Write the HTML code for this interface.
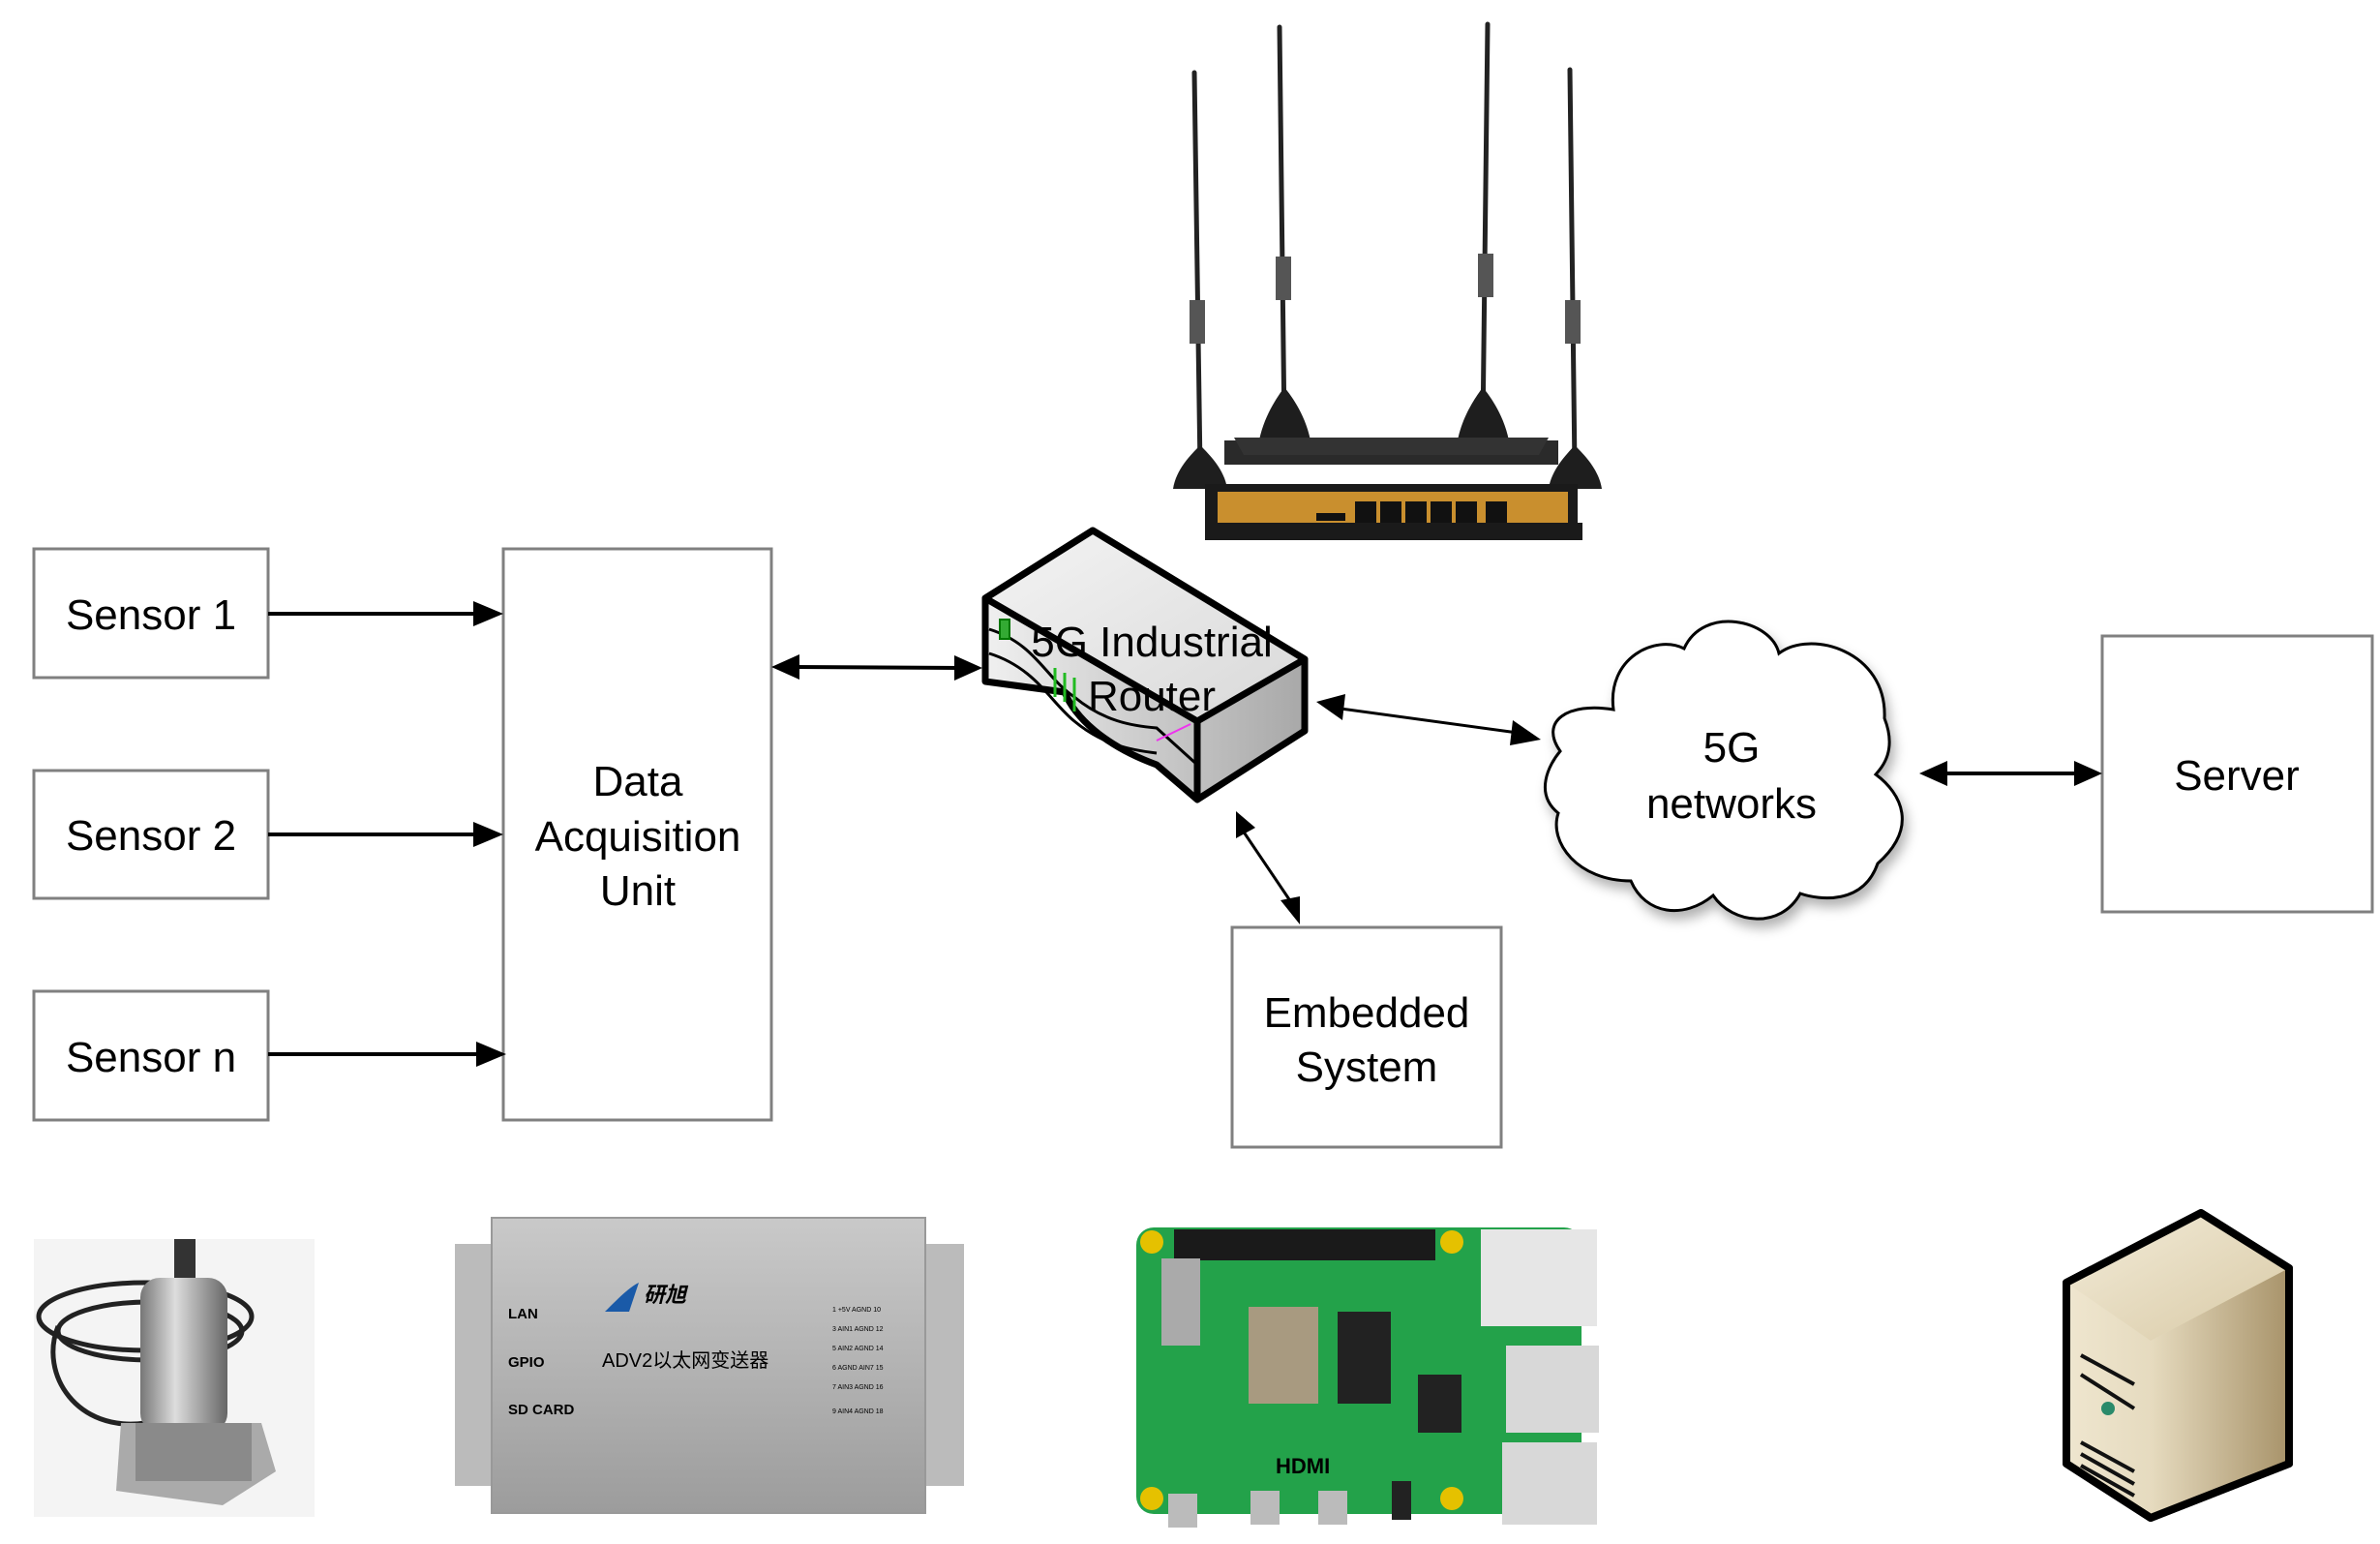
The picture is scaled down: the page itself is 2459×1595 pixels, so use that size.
<!DOCTYPE html>
<html><head><meta charset="utf-8"><style>
html,body{margin:0;padding:0;background:#fff}
svg{display:block}
text{font-family:"Liberation Sans","Noto Sans CJK SC",sans-serif;fill:#000}
</style></head><body>
<svg width="2459" height="1595" viewBox="0 0 2459 1595" xmlns="http://www.w3.org/2000/svg">
<defs>
<marker id="ah" markerWidth="10" markerHeight="10" refX="9" refY="5" orient="auto" markerUnits="userSpaceOnUse" viewBox="0 0 10 10">
</marker>
<linearGradient id="rtop" x1="0" y1="0" x2="1" y2="1"><stop offset="0" stop-color="#f4f4f4"/><stop offset="1" stop-color="#d8d8d8"/></linearGradient>
<linearGradient id="rside" x1="0" y1="0" x2="1" y2="0"><stop offset="0" stop-color="#f0f0f0"/><stop offset="1" stop-color="#a8a8a8"/></linearGradient>
<linearGradient id="stop" x1="0" y1="0" x2="1" y2="1"><stop offset="0" stop-color="#f3ecd9"/><stop offset="1" stop-color="#d8c9a5"/></linearGradient>
<linearGradient id="sside" x1="0" y1="0" x2="1" y2="0"><stop offset="0" stop-color="#e6dbbf"/><stop offset="1" stop-color="#a8936a"/></linearGradient>
<linearGradient id="sfront" x1="0" y1="0" x2="1" y2="0"><stop offset="0" stop-color="#efe6cf"/><stop offset="1" stop-color="#d6c8a5"/></linearGradient>
<linearGradient id="metal" x1="0" y1="0" x2="0" y2="1"><stop offset="0" stop-color="#c9c9c9"/><stop offset="0.5" stop-color="#b3b3b3"/><stop offset="1" stop-color="#9c9c9c"/></linearGradient>
<linearGradient id="sens" x1="0" y1="0" x2="1" y2="0"><stop offset="0" stop-color="#777"/><stop offset="0.4" stop-color="#ddd"/><stop offset="1" stop-color="#666"/></linearGradient>
<filter id="sh"><feDropShadow dx="4" dy="8" stdDeviation="6" flood-color="#000" flood-opacity="0.3"/></filter>
</defs>

<!-- Boxes -->
<g fill="#fff" stroke="#808080" stroke-width="3">
<rect x="35" y="567" width="242" height="133"/>
<rect x="35" y="796" width="242" height="132"/>
<rect x="35" y="1024" width="242" height="133"/>
<rect x="520" y="567" width="277" height="590"/>
<rect x="1273" y="958" width="278" height="227"/>
<rect x="2172" y="657" width="279" height="285"/>
</g>
<g font-size="44" text-anchor="middle">
<text x="156" y="650">Sensor 1</text>
<text x="156" y="878">Sensor 2</text>
<text x="156" y="1107">Sensor n</text>
<text x="659" y="822">Data</text>
<text x="659" y="879">Acquisition</text>
<text x="659" y="935">Unit</text>
<text x="1412" y="1061">Embedded</text>
<text x="1412" y="1117">System</text>
<text x="2311" y="816">Server</text>
</g>

<!-- Arrows -->
<g stroke="#000" stroke-width="4">
<line x1="277" y1="634" x2="500" y2="634"/>
<line x1="277" y1="862" x2="500" y2="862"/>
<line x1="277" y1="1089" x2="503" y2="1089"/>
<line x1="820" y1="689" x2="993" y2="690"/>
<line x1="2005" y1="799" x2="2150" y2="799"/>
<line x1="1385" y1="732" x2="1568" y2="757" stroke-width="3"/>
<line x1="1284" y1="858" x2="1336" y2="935" stroke-width="3"/>
</g>
<g fill="#000">
<polygon points="520,634 489,621 489,647"/>
<polygon points="520,862 489,849 489,875"/>
<polygon points="523,1089 492,1076 492,1102"/>
<polygon points="797,689 826,676 826,702"/>
<polygon points="1015,690 986,677 986,703"/>
<polygon points="1983,799 2012,786 2012,812"/>
<polygon points="2172,799 2143,786 2143,812"/>
<polygon points="1360,725 1390,717 1387,744"/>
<polygon points="1592,764 1563,744 1560,770"/>
<polygon points="1277,838 1277,866 1297,855"/>
<polygon points="1343,955 1323,930 1343,926"/>
</g>

<!-- Cloud -->
<g filter="url(#sh)">
<path d="M1667,733 C1660,680 1710,655 1740,670 C1760,625 1830,640 1838,675 C1870,650 1950,672 1947,742 C1960,775 1945,792 1938,800 C1965,820 1982,855 1940,892 C1925,935 1880,930 1860,923 C1840,960 1790,955 1770,925 C1740,950 1700,945 1685,910 C1630,910 1600,870 1610,840 C1585,820 1600,790 1612,776 C1590,745 1620,725 1667,733 Z" fill="#fff" stroke="#000" stroke-width="3"/>
</g>
<g font-size="44" text-anchor="middle">
<text x="1789" y="787">5G</text>
<text x="1789" y="845">networks</text>
</g>

<!-- Router icon -->
<g stroke="#000" stroke-width="7" stroke-linejoin="round">
<path d="M1129,548 L1348,681 L1348,755 L1237,826 L1195,790 C1140,770 1110,740 1100,715 L1018,704 L1018,618 Z" fill="url(#rside)"/>
<path d="M1129,548 L1348,681 L1237,745 L1018,618 Z" fill="url(#rtop)"/>
<path d="M1237,745 L1237,826" fill="none"/>
</g>
<g stroke="#000" stroke-width="3" fill="none">
<path d="M1022,650 C1070,665 1080,700 1110,720 C1140,745 1170,750 1195,752 L1237,790"/>
<path d="M1022,675 C1070,690 1085,725 1110,745 C1140,770 1170,775 1195,778"/>
</g>
<rect x="1033" y="640" width="10" height="20" fill="#3a3" stroke="#070" stroke-width="2"/>
<g stroke="#2b2" stroke-width="3"><line x1="1090" y1="690" x2="1090" y2="720"/><line x1="1100" y1="695" x2="1100" y2="725"/><line x1="1110" y1="700" x2="1110" y2="735"/></g>
<line x1="1195" y1="765" x2="1230" y2="748" stroke="#e3e" stroke-width="2"/>
<g font-size="44" text-anchor="middle">
<text x="1190" y="678">5G Industrial</text>
<text x="1190" y="734">Router</text>
</g>

<!-- Top 4G router with antennas -->
<g stroke="#222" stroke-linecap="round">
<line x1="1234" y1="75" x2="1240" y2="485" stroke-width="5"/>
<line x1="1322" y1="28" x2="1327" y2="445" stroke-width="5"/>
<line x1="1537" y1="25" x2="1532" y2="445" stroke-width="5"/>
<line x1="1622" y1="72" x2="1627" y2="485" stroke-width="5"/>
</g>
<g fill="#555">
<rect x="1229" y="310" width="16" height="45"/><rect x="1318" y="265" width="16" height="45"/>
<rect x="1527" y="262" width="16" height="45"/><rect x="1617" y="310" width="16" height="45"/>
</g>
<g fill="#1e1e1e">
<path d="M1212,505 C1215,485 1230,470 1240,460 C1250,470 1265,485 1268,505 Z"/>
<path d="M1300,460 C1305,430 1320,410 1327,400 C1335,410 1350,430 1355,460 Z"/>
<path d="M1505,460 C1510,430 1525,410 1532,400 C1540,410 1555,430 1560,460 Z"/>
<path d="M1600,505 C1603,485 1618,470 1627,460 C1637,470 1652,485 1655,505 Z"/>
</g>
<path d="M1265,455 L1610,455 L1610,480 L1265,480 Z" fill="#2a2a2a"/>
<path d="M1275,452 L1600,452 L1590,470 L1285,470 Z" fill="#333"/>
<rect x="1245" y="500" width="385" height="56" fill="#1a1a1a"/>
<rect x="1258" y="508" width="362" height="44" fill="#c98f2e"/>
<g fill="#111">
<rect x="1400" y="518" width="22" height="25"/><rect x="1426" y="518" width="22" height="25"/><rect x="1452" y="518" width="22" height="25"/><rect x="1478" y="518" width="22" height="25"/><rect x="1504" y="518" width="22" height="25"/><rect x="1535" y="518" width="22" height="25"/>
<rect x="1360" y="530" width="30" height="8"/>
</g>
<rect x="1245" y="540" width="390" height="18" fill="#1a1a1a"/>

<!-- Bottom: sensor photo -->
<rect x="35" y="1280" width="290" height="287" fill="#f4f4f4"/>
<g fill="none" stroke="#222" stroke-width="5">
<ellipse cx="150" cy="1360" rx="110" ry="35"/>
<ellipse cx="155" cy="1375" rx="95" ry="30"/>
<path d="M60,1370 C40,1420 80,1480 150,1470"/>
</g>
<rect x="180" y="1280" width="22" height="55" fill="#333"/>
<rect x="145" y="1320" width="90" height="160" rx="20" fill="url(#sens)"/>
<polygon points="125,1470 270,1470 285,1520 230,1555 120,1540" fill="#aaa"/>
<rect x="140" y="1470" width="120" height="60" fill="#8a8a8a"/>

<!-- DAU device -->
<rect x="470" y="1285" width="60" height="250" fill="#bbb"/>
<rect x="940" y="1285" width="56" height="250" fill="#bbb"/>
<rect x="508" y="1258" width="448" height="305" fill="url(#metal)" stroke="#999" stroke-width="2"/>
<g font-size="15" font-weight="bold"><text x="525" y="1362">LAN</text><text x="525" y="1412">GPIO</text><text x="525" y="1461">SD CARD</text></g>
<text x="622" y="1412" font-size="20">ADV2以太网变送器</text>
<text x="665" y="1345" font-size="22" font-weight="bold" font-style="italic" fill="#1a3a8a">研旭</text>
<path d="M625,1355 C640,1340 650,1330 660,1325 L650,1355 Z" fill="#1a5aa8"/>
<g font-size="7" fill="#333"><text x="860" y="1355">1 +5V  AGND 10</text><text x="860" y="1375">3 AIN1  AGND 12</text><text x="860" y="1395">5 AIN2  AGND 14</text><text x="860" y="1415">6 AGND  AIN7 15</text><text x="860" y="1435">7 AIN3  AGND 16</text><text x="860" y="1460">9 AIN4  AGND 18</text></g>

<!-- Raspberry Pi -->
<rect x="1174" y="1268" width="460" height="296" rx="18" fill="#23a24a"/>
<rect x="1213" y="1270" width="270" height="32" fill="#1a1a1a"/>
<rect x="1530" y="1270" width="120" height="100" fill="#e6e6e6"/>
<rect x="1556" y="1390" width="96" height="90" fill="#d8d8d8"/>
<rect x="1552" y="1490" width="98" height="85" fill="#d8d8d8"/>
<rect x="1290" y="1350" width="72" height="100" fill="#a89a80"/>
<rect x="1382" y="1355" width="55" height="95" fill="#222"/>
<rect x="1200" y="1300" width="40" height="90" fill="#aaa"/>
<rect x="1465" y="1420" width="45" height="60" fill="#222"/>
<text x="1318" y="1522" font-size="22" font-weight="bold" fill="#fff">HDMI</text>
<circle cx="1190" cy="1283" r="12" fill="#e5c100"/><circle cx="1500" cy="1283" r="12" fill="#e5c100"/><circle cx="1190" cy="1548" r="12" fill="#e5c100"/><circle cx="1500" cy="1548" r="12" fill="#e5c100"/>
<rect x="1207" y="1543" width="30" height="35" fill="#bbb"/><rect x="1292" y="1540" width="30" height="35" fill="#bbb"/><rect x="1362" y="1540" width="30" height="35" fill="#bbb"/><rect x="1438" y="1530" width="20" height="40" fill="#222"/>

<!-- Server tower -->
<g stroke="#000" stroke-width="8" stroke-linejoin="round">
<path d="M2135,1325 L2274,1253 L2365,1310 L2365,1512 L2222,1568 L2135,1512 Z" fill="url(#sfront)"/>
<path d="M2135,1325 L2274,1253 L2365,1310 L2222,1385 Z" fill="url(#stop)" stroke-width="0"/>
<path d="M2222,1385 L2365,1310 L2365,1512 L2222,1568 Z" fill="url(#sside)" stroke-width="0"/>
</g>
<path d="M2135,1325 L2274,1253 L2365,1310 L2365,1512 L2222,1568 L2135,1512 Z" fill="none" stroke="#000" stroke-width="8" stroke-linejoin="round"/>
<g stroke="#111" stroke-width="4"><line x1="2150" y1="1400" x2="2205" y2="1430"/><line x1="2150" y1="1420" x2="2205" y2="1455"/><line x1="2150" y1="1490" x2="2205" y2="1520"/><line x1="2150" y1="1502" x2="2205" y2="1533"/><line x1="2150" y1="1514" x2="2205" y2="1545"/></g>
<circle cx="2178" cy="1455" r="7" fill="#2a8a6a"/>
</svg>
</body></html>
